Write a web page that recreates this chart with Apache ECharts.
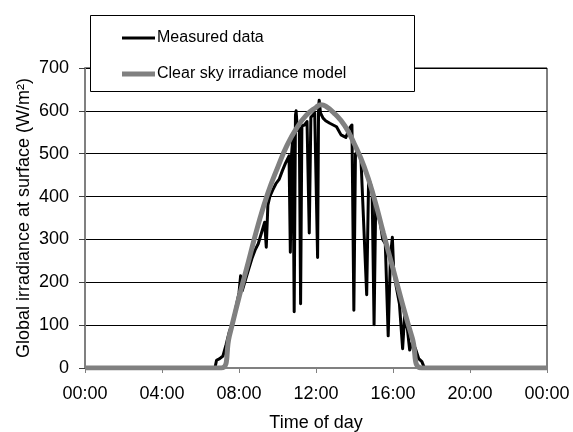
<!DOCTYPE html>
<html>
<head>
<meta charset="utf-8">
<script src="https://cdn.jsdelivr.net/npm/echarts@6/dist/echarts.min.js"></script>
<style>
    html, body { margin: 0; padding: 0; background: #fff; }
    #chart { width: 573px; height: 432px; }
</style>
</head>
<body>
<div id="chart"></div>
<script>
// 实测数据 (时间, W/m2)
const measuredTime = [
    '00:00', '06:45', '06:50', '07:00', '07:10', '07:20', '07:30', '07:40', '07:50', '08:00',
    '08:05', '08:10', '08:20', '08:30', '08:40', '08:50', '09:00', '09:10', '09:20', '09:25',
    '09:30', '09:36', '09:45', '09:55', '10:05', '10:15', '10:25', '10:36', '10:40', '10:44',
    '10:48', '10:52', '10:56', '10:58', '11:02', '11:08', '11:12', '11:16', '11:24', '11:32',
    '11:39', '11:44', '11:50', '11:56', '12:05', '12:08', '12:10', '12:14', '12:22', '12:30',
    '12:43', '13:04', '13:18', '13:33', '13:45', '13:52', '13:58', '14:03', '14:10', '14:20',
    '14:38', '14:44', '14:50', '14:55', '15:01', '15:06', '15:12', '15:20', '15:28', '15:36',
    '15:45', '15:52', '15:58', '16:02', '16:10', '16:20', '16:30', '16:36', '16:45', '16:52',
    '17:00', '17:10', '17:20', '17:30', '17:38', '24:00'
];
const measuredValue = [
    0, 0, 18, 22, 28, 55, 85, 105, 140, 175,
    215, 180, 205, 230, 255, 275, 290, 315, 340, 282,
    380, 400, 415, 430, 440, 460, 478, 495, 270, 500,
    540, 131, 590, 600, 555, 560, 150, 565, 567, 575,
    315, 585, 590, 595, 258, 610, 625, 595, 583, 577,
    571, 563, 544, 538, 560, 567, 135, 500, 505, 490,
    171, 440, 430, 410, 101, 380, 358, 340, 300, 290,
    75, 260, 305, 230, 190, 150, 45, 120, 90, 42,
    60, 45, 22, 15, 0, 0
];

// 晴空模型
const modelTime = [
    '00:00', '07:05', '07:30', '08:00', '08:30', '09:00', '09:30', '10:00', '10:30', '11:00',
    '11:30', '12:00', '12:15', '12:30', '13:00', '13:30', '14:00', '14:30', '15:00', '15:30',
    '16:00', '16:30', '17:00', '17:30', '24:00'
];
const modelValue = [
    0, 0, 75, 165, 250, 335, 408, 467, 520, 560,
    590, 608, 614, 611, 592, 565, 522, 470, 400, 315,
    232, 148, 70, 0, 0
];

function toHour(s) {
    const p = s.split(':');
    return Number(p[0]) + Number(p[1]) / 60;
}
function pad(n) {
    return (n < 10 ? '0' : '') + n;
}

const chart = echarts.init(document.getElementById('chart'));
const font = 'Liberation Sans, Arial, sans-serif';

// 图例（两个，各自线宽）
function legendFor(name, top, height, color) {
    return {
        left: 122,
        top: top,
        z: 5,
        padding: 0,
        icon: 'rect',
        itemWidth: 33,
        itemHeight: height,
        itemStyle: { color: color },
        textStyle: { fontFamily: font, fontSize: 16, color: '#000', padding: [0, 0, 0, -3] },
        data: [name]
    };
}

chart.setOption({
    animation: false,
    backgroundColor: '#fff',
    textStyle: { fontFamily: font, color: '#000' },
    grid: {
        left: 85,
        right: 26,
        top: 68,
        bottom: 64,
        outerBoundsMode: 'none',
        show: true,
        borderColor: '#000',
        borderWidth: 1,
        backgroundColor: 'transparent'
    },
    graphic: [{
        type: 'rect',
        z: 3,
        shape: { x: 90.5, y: 15.5, width: 324, height: 76 },
        style: { fill: '#fff', stroke: '#000', lineWidth: 1 }
    }],
    legend: [
        legendFor('Measured data', 30, 3, '#000'),
        legendFor('Clear sky irradiance model', 66, 5, '#808080')
    ],
    xAxis: {
        type: 'value',
        min: 0,
        max: 24,
        interval: 4,
        name: 'Time of day',
        nameLocation: 'middle',
        nameGap: 46,
        nameTextStyle: { fontFamily: font, fontSize: 18, color: '#000' },
        axisLine: { show: true, lineStyle: { color: '#808080', width: 2 } },
        axisTick: { show: true, length: 5, lineStyle: { color: '#808080', width: 1 } },
        axisLabel: {
            fontFamily: font, fontSize: 18, color: '#000', margin: 17,
            formatter: (v) => pad(v % 24) + ':00'
        },
        splitLine: { show: false }
    },
    yAxis: {
        type: 'value',
        min: 0,
        max: 700,
        interval: 100,
        name: 'Global irradiance at surface (W/m²)',
        nameLocation: 'middle',
        nameGap: 52,
        nameMoveOverlap: false,
        nameTextStyle: { fontFamily: font, fontSize: 18, color: '#000' },
        axisLine: { show: true, lineStyle: { color: '#808080', width: 2 } },
        axisTick: { show: true, length: 6, lineStyle: { color: '#404040', width: 1 } },
        axisLabel: { fontFamily: font, fontSize: 18, color: '#000', margin: 16 },
        splitLine: { show: true, lineStyle: { color: '#000', width: 1 } }
    },
    series: [
        {
            name: 'Measured data',
            type: 'line',
            symbol: 'none',
            z: 2,
            lineStyle: { color: '#000', width: 3, join: 'round' },
            itemStyle: { color: '#000' },
            data: measuredTime.map((t, i) => [toHour(t), measuredValue[i]])
        },
        {
            name: 'Clear sky irradiance model',
            type: 'line',
            symbol: 'none',
            smooth: 0.5,
            z: 3,
            lineStyle: { color: '#808080', width: 5 },
            itemStyle: { color: '#808080' },
            data: modelTime.map((t, i) => [toHour(t), modelValue[i]])
        }
    ]
});

window.addEventListener('resize', () => chart.resize());
</script>
</body>
</html>
